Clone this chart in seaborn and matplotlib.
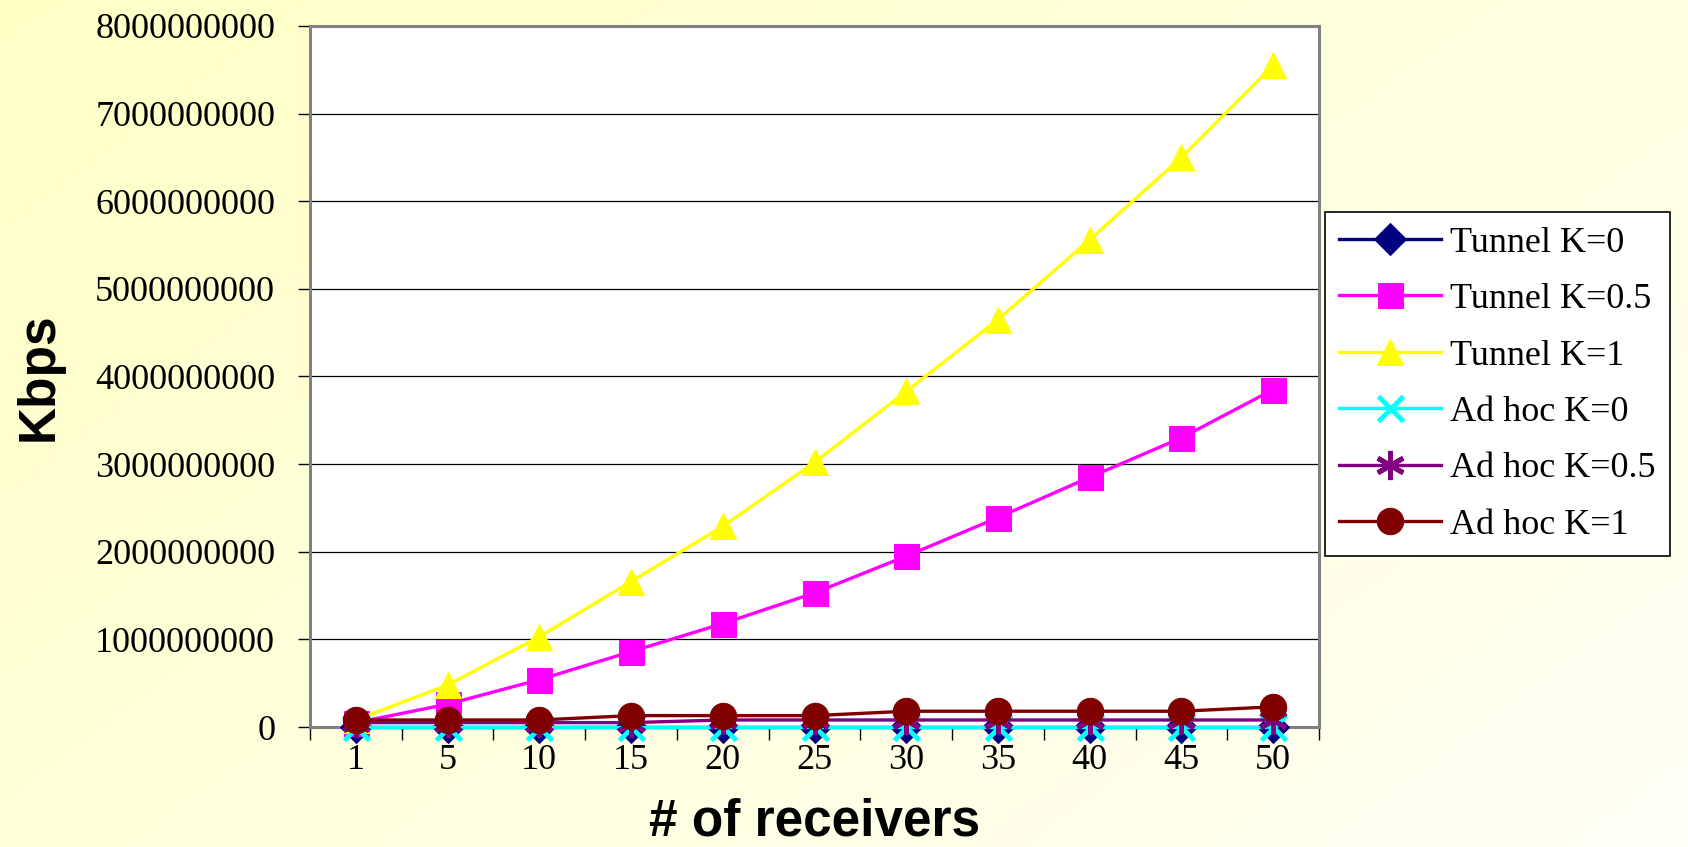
import numpy as np
import pandas as pd
import matplotlib
matplotlib.use('Agg')
import matplotlib.pyplot as plt
import seaborn as sns
from matplotlib.ticker import FuncFormatter, FixedLocator

# data (Kbps)
receivers = [1, 5, 10, 15, 20, 25, 30, 35, 40, 45, 50]
tunnel_k0 = [0, 0, 0, 0, 0, 0, 0, 0, 0, 0, 0]
tunnel_k05 = [0.05e9, 0.26e9, 0.54e9, 0.86e9, 1.18e9, 1.53e9, 1.95e9, 2.39e9, 2.85e9, 3.30e9, 3.85e9]
tunnel_k1 = [0.08e9, 0.48e9, 1.03e9, 1.66e9, 2.29e9, 3.02e9, 3.83e9, 4.65e9, 5.56e9, 6.50e9, 7.55e9]
adhoc_k0 = [0, 0, 0, 0, 0, 0, 0, 0, 0, 0, 0]
adhoc_k05 = [0.05e9, 0.05e9, 0.05e9, 0.05e9, 0.08e9, 0.08e9, 0.08e9, 0.08e9, 0.08e9, 0.08e9, 0.08e9]
adhoc_k1 = [0.08e9, 0.08e9, 0.08e9, 0.13e9, 0.13e9, 0.13e9, 0.18e9, 0.18e9, 0.18e9, 0.18e9, 0.23e9]

series_names = ['Tunnel K=0', 'Tunnel K=0.5', 'Tunnel K=1',
                'Ad hoc K=0', 'Ad hoc K=0.5', 'Ad hoc K=1']
series_values = [tunnel_k0, tunnel_k05, tunnel_k1, adhoc_k0, adhoc_k05, adhoc_k1]

styles = [
    dict(color='#000080', marker='D', markersize=16),
    dict(color='#FF00FF', marker='s', markersize=18),
    dict(color='#FFFF00', marker='^', markersize=19),
    dict(color='#00FFFF', marker='x', markersize=18, markeredgewidth=3.5),
    dict(color='#800080', marker=(6, 2, 0), markersize=21, markeredgewidth=3.5),
    dict(color='#800000', marker='o', markersize=19),
]

serif = 'Liberation Serif'
sans = 'Liberation Sans'

fig = plt.figure(figsize=(16.88, 8.47), dpi=100)

# light yellow gradient background
bg = fig.add_axes([0, 0, 1, 1], zorder=-10)
gx, gy = np.meshgrid(np.linspace(0, 1, 300), np.linspace(0, 1, 150))
t = (gx * 0.6 + gy * 0.4)
img = np.zeros((150, 300, 3))
img[..., 0] = 1.0
img[..., 1] = 1.0
img[..., 2] = (198 + t * 47) / 255
bg.imshow(img, aspect='auto', extent=[0, 1, 0, 1])
bg.axis('off')

ax = fig.add_axes([310 / 1688, 1 - 727 / 847, (1319 - 310) / 1688, (727 - 26) / 847])
ax.set_facecolor('white')

pos = list(range(len(receivers)))
for name, vals, st in zip(series_names, series_values, styles):
    sns.lineplot(x=pos, y=vals, ax=ax, label=name, linewidth=2.4,
                 markeredgecolor=st['color'], clip_on=False, zorder=3, **st)

ax.set_xlim(-0.5, len(receivers) - 0.5)
ax.set_ylim(0, 8e9)
ax.yaxis.set_major_locator(FixedLocator(np.arange(0, 8.01e9, 1e9)))
ax.yaxis.set_major_formatter(FuncFormatter(lambda v, p: f'{int(round(v))}'))
ax.grid(axis='y', color='black', linewidth=0.9)
ax.grid(axis='x', visible=False)
ax.set_axisbelow(True)

# category axis: ticks between categories, labels centred
ax.xaxis.set_major_locator(FixedLocator(np.arange(-0.5, len(receivers), 1)))
ax.xaxis.set_major_formatter(FuncFormatter(lambda v, p: ''))
ax.xaxis.set_minor_locator(FixedLocator(pos))
ax.set_xticklabels([str(r) for r in receivers], minor=True)
ax.tick_params(axis='x', which='major', length=9, width=1, color='black', direction='out')
ax.tick_params(axis='x', which='minor', length=0, pad=12)
ax.tick_params(axis='y', length=9, width=1, color='black', direction='out', pad=16)
for lab in ax.get_xticklabels(minor=True) + ax.get_yticklabels():
    lab.set_fontfamily(serif)
    lab.set_fontsize(26)

for sp in ax.spines.values():
    sp.set_color('#808080')
    sp.set_linewidth(2.2)

ax.set_xlabel('# of receivers', fontfamily=sans, fontweight='bold', fontsize=37, labelpad=15)
ax.set_ylabel('Kbps', fontfamily=sans, fontweight='bold', fontsize=37, labelpad=23)

ax.legend(loc='upper left', bbox_to_anchor=(1325 / 1688, 1 - 212 / 847),
          bbox_transform=fig.transFigure, borderaxespad=0,
          prop={'family': serif, 'size': 26}, frameon=True, fancybox=False,
          edgecolor='black', framealpha=1, handlelength=2.8, handletextpad=0.25,
          labelspacing=0.64, borderpad=0.4)
ax.get_legend().get_frame().set_linewidth(1.2)

plt.savefig('out.png', dpi=100)
